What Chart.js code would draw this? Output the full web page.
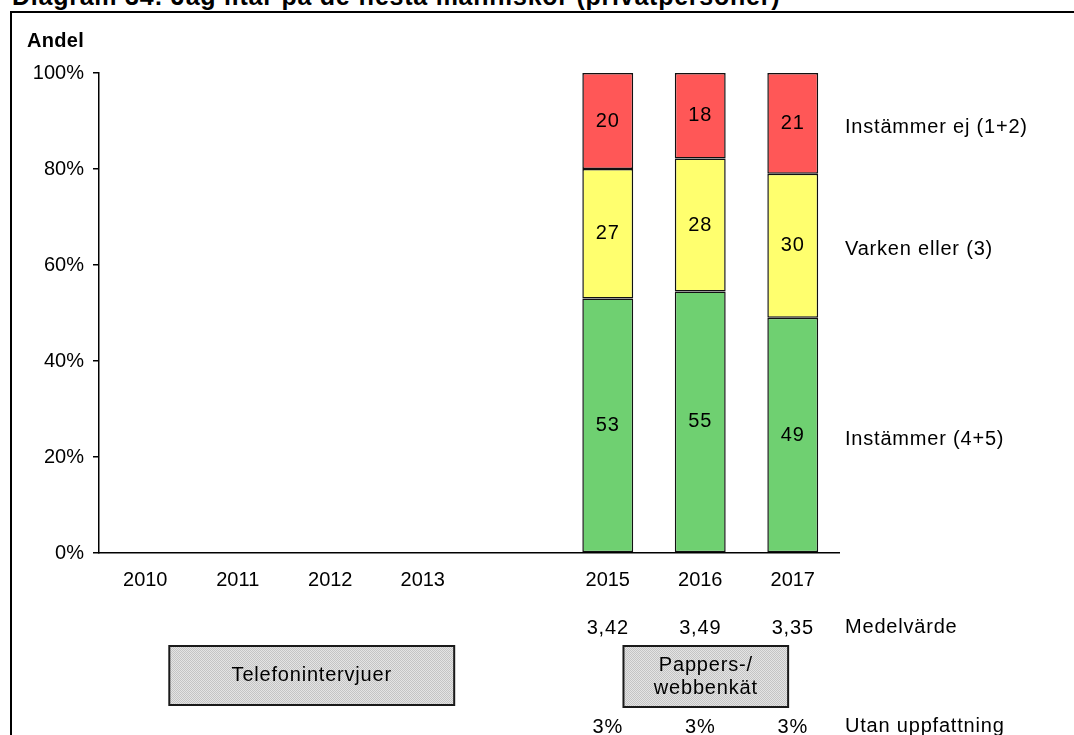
<!DOCTYPE html>
<html lang="sv">
<head>
<meta charset="utf-8">
<script src="https://cdn.jsdelivr.net/npm/chart.js@4"></script>
<style>
    html, body { margin: 0; padding: 0; background: #fff; overflow: hidden; }
    #wrap { position: relative; width: 1074px; height: 735px; overflow: hidden; }
    #rubrik {
        position: absolute; left: 12px; top: -18px; white-space: nowrap; line-height: 29px;
        font: bold 25px Arial, "Liberation Sans", sans-serif; letter-spacing: 0.75px; color: #000;
    }
    #ram {
        position: absolute; left: 10px; top: 11px; width: 1200px; height: 900px;
        border-left: 2px solid #000; border-top: 2px solid #000;
    }
    #diagram { position: absolute; left: 0; top: 0; }
</style>
</head>
<body>
<div id="wrap">
    <div id="rubrik">Diagram 34: Jag litar på de flesta människor (privatpersoner)</div>
    <div id="ram"></div>
    <canvas id="diagram" width="1074" height="735"></canvas>
</div>
<script>
// Data
const ar = ['2010', '2011', '2012', '2013', '', '2015', '2016', '2017'];
const instammer = [null, null, null, null, null, 53, 55, 49];
const varkenEller = [null, null, null, null, null, 27, 28, 30];
const instammerEj = [null, null, null, null, null, 20, 18, 21];
const serieNamn = ['Instämmer (4+5)', 'Varken eller (3)', 'Instämmer ej (1+2)'];
const medelvarde = ['', '', '', '', '', '3,42', '3,49', '3,35'];
const utanUppfattning = ['', '', '', '', '', '3%', '3%', '3%'];
const yTicks = [0, 20, 40, 60, 80, 100];
const metoder = [['Telefonintervjuer'], ['Pappers-/', 'webbenkät']];

const FONT = 'Arial, "Liberation Sans", sans-serif';
Chart.defaults.font.family = FONT;
Chart.defaults.font.size = 20;
Chart.defaults.color = '#000';

// staplarna ritas som andel av summan (2016 summerar till 101)
const serier = [instammer, varkenEller, instammerEj];
const summa = ar.map((_, i) => serier.reduce((s, d) => s + (d[i] || 0), 0));
const andel = d => d.map((v, i) => v == null ? null : v / summa[i] * 100);

// grått prickigt mönster för metodrutorna
function prickMonster(ctx) {
    const c = document.createElement('canvas');
    c.width = 2; c.height = 2;
    const p = c.getContext('2d');
    p.fillStyle = '#e4e4e4'; p.fillRect(0, 0, 2, 2);
    p.fillStyle = '#c4c4c4'; p.fillRect(0, 0, 1, 1); p.fillRect(1, 1, 1, 1);
    return ctx.createPattern(c, 'repeat');
}

const texter = {
    id: 'texter',
    afterDatasetsDraw(chart) {
        const ctx = chart.ctx;
        const area = chart.chartArea;
        const x = chart.scales.x;
        ctx.save();
        ctx.fillStyle = '#000';
        ctx.textBaseline = 'middle';
        ctx.font = '20px ' + FONT;
        ctx.letterSpacing = '0.8px';

        // värden i staplarna + serienamn till höger
        chart.data.datasets.forEach((ds, di) => {
            const meta = chart.getDatasetMeta(di);
            let sista = null;
            meta.data.forEach((bar, i) => {
                if (ds.data[i] == null) return;
                const y1 = Math.max(bar.y, area.top);
                const y2 = Math.min(bar.base, area.bottom);
                ctx.textAlign = 'center';
                ctx.fillText(serier[di][i], bar.x, (y1 + y2) / 2);
                sista = { y1, y2 };
            });
            if (sista) {
                ctx.textAlign = 'left';
                ctx.fillText(ds.label, area.right + 6, (sista.y1 + sista.y2) / 2 + 4);
            }
        });

        // Andel
        ctx.font = 'bold 20px ' + FONT;
        ctx.letterSpacing = '0.3px';
        ctx.textAlign = 'left';
        ctx.fillText('Andel', 27, 41);

        // rader under diagrammet
        ctx.font = '20px ' + FONT;
        ctx.letterSpacing = '0.8px';
        ctx.textAlign = 'center';
        ar.forEach((a, i) => {
            const px = x.getPixelForValue(i);
            if (medelvarde[i]) ctx.fillText(medelvarde[i], px, 628);
            if (utanUppfattning[i]) ctx.fillText(utanUppfattning[i], px, 727);
        });
        ctx.textAlign = 'left';
        ctx.fillText('Medelvärde', area.right + 6, 627);
        ctx.fillText('Utan uppfattning', area.right + 6, 726);

        // metodrutor
        const rutor = [
            { fran: 0.26, till: 3.34, topp: 646, botten: 705 },
            { fran: 5.17, till: 6.95, topp: 646, botten: 707 }
        ];
        const monster = prickMonster(ctx);
        rutor.forEach((r, k) => {
            const vx = x.getPixelForValue(r.fran);
            const hx = x.getPixelForValue(r.till);
            ctx.fillStyle = monster;
            ctx.fillRect(vx, r.topp, hx - vx, r.botten - r.topp);
            ctx.strokeStyle = '#1a1a1a';
            ctx.lineWidth = 2;
            ctx.strokeRect(vx, r.topp, hx - vx, r.botten - r.topp);
            ctx.fillStyle = '#000';
            ctx.textAlign = 'center';
            const rader = metoder[k];
            const mitt = (r.topp + r.botten) / 2;
            rader.forEach((t, j) => {
                ctx.fillText(t, (vx + hx) / 2, mitt + (j - (rader.length - 1) / 2) * 23);
            });
        });
        ctx.restore();
    }
};

new Chart(document.getElementById('diagram'), {
    type: 'bar',
    data: {
        labels: ar,
        datasets: [
            { label: serieNamn[0], data: andel(instammer), backgroundColor: '#6fd071' },
            { label: serieNamn[1], data: andel(varkenEller), backgroundColor: '#ffff6e' },
            { label: serieNamn[2], data: andel(instammerEj), backgroundColor: '#ff5757' }
        ].map(d => Object.assign(d, {
            borderColor: '#111',
            borderWidth: 1.5,
            borderSkipped: false,
            categoryPercentage: 1,
            barPercentage: 0.55
        }))
    },
    options: {
        responsive: false,
        animation: false,
        layout: { padding: { top: 73, right: 235, left: 0, bottom: 0 } },
        plugins: { legend: { display: false }, tooltip: { enabled: false } },
        scales: {
            x: {
                stacked: true,
                grid: { display: false },
                border: { display: true, color: '#000', width: 1.5 },
                ticks: { padding: 7, maxRotation: 0, autoSkip: false },
                afterFit(s) { s.height = 735 - 553; }
            },
            y: {
                stacked: true,
                min: 0,
                max: 100,
                afterBuildTicks(s) { s.ticks = yTicks.map(v => ({ value: v })); },
                grid: { drawOnChartArea: false, drawTicks: true, tickLength: 6, color: '#000', lineWidth: 1.5 },
                border: { display: true, color: '#000', width: 1.5 },
                ticks: { padding: 9, callback: v => v + '%' },
                afterFit(s) { s.width = 99; }
            }
        }
    },
    plugins: [texter]
});
</script>
</body>
</html>
